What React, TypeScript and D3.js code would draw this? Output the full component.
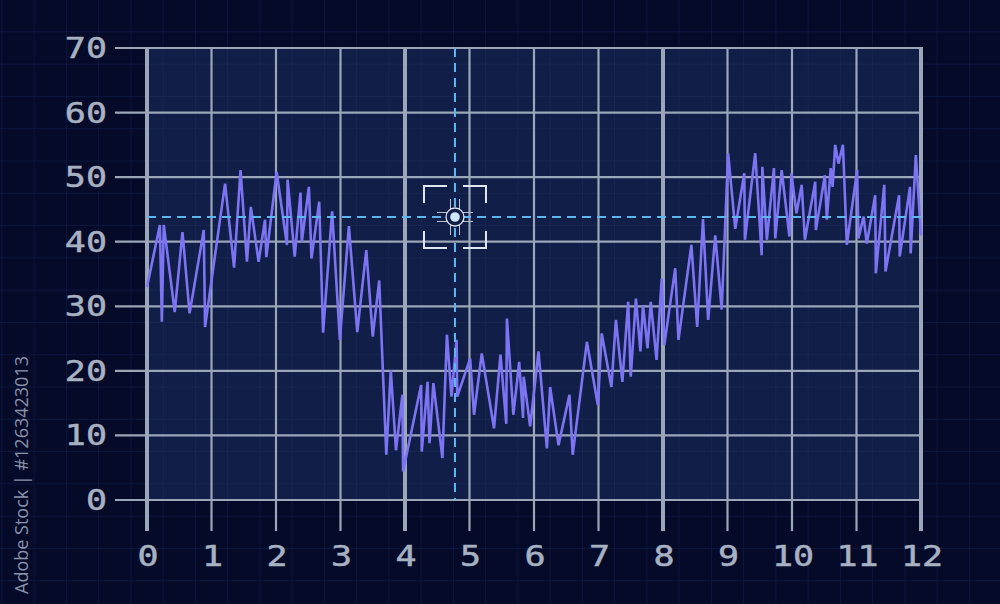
import React from "react";
import * as d3 from "d3";

const xTicks = [0, 1, 2, 3, 4, 5, 6, 7, 8, 9, 10, 11, 12];
const yTicks = [0, 10, 20, 30, 40, 50, 60, 70];
const thickX = [0, 4, 8, 12];

const seriesX = [
  0, 0.2, 0.23, 0.26, 0.43, 0.55, 0.66, 0.88, 0.9, 1.21, 1.35, 1.45, 1.55, 1.61, 1.73, 1.83, 1.85,
  2.01, 2.17, 2.18, 2.29, 2.38, 2.4, 2.51, 2.55, 2.67, 2.73, 2.87, 2.99, 3.13, 3.26, 3.4, 3.5, 3.6,
  3.71, 3.78, 3.86, 3.96, 3.97, 4.25, 4.26, 4.35, 4.38, 4.44, 4.58, 4.65, 4.72, 4.8, 4.81, 5.01,
  5.07, 5.19, 5.38, 5.48, 5.57, 5.58, 5.68, 5.77, 5.83, 5.84, 5.94, 6.07, 6.2, 6.25, 6.38, 6.55,
  6.6, 6.82, 6.99, 7.05, 7.2, 7.27, 7.37, 7.46, 7.5, 7.58, 7.65, 7.69, 7.76, 7.81, 7.9, 7.98, 8.02,
  8.19, 8.24, 8.44, 8.53, 8.62, 8.7, 8.81, 8.91, 9.01, 9.12, 9.26, 9.27, 9.43, 9.53, 9.54, 9.61,
  9.72, 9.74, 9.84, 9.96, 9.99, 10.07, 10.15, 10.2, 10.36, 10.37, 10.51, 10.54, 10.6, 10.63, 10.67,
  10.72, 10.79, 10.85, 11.01, 11.03, 11.11, 11.16, 11.29, 11.3, 11.43, 11.45, 11.66, 11.67, 11.83,
  11.84, 11.92, 12,
];
const seriesY = [
  33.0, 42.6, 27.6, 42.6, 29.1, 41.5, 28.9, 41.8, 26.8, 49.0, 36.0, 51.1, 36.9, 45.4, 36.9, 43.4, 37.6,
  50.8, 39.5, 49.6, 37.7, 47.6, 40.0, 48.5, 37.4, 46.2, 25.9, 44.7, 24.8, 42.4, 26.0, 38.7, 25.3, 34.0,
  7.0, 20.1, 7.7, 16.3, 4.4, 17.8, 7.5, 18.3, 8.8, 18.1, 6.5, 25.6, 16.0, 24.8, 16.0, 21.9,
  13.2, 22.7, 11.1, 22.5, 11.8, 28.1, 13.2, 21.4, 12.7, 19.1, 11.4, 23.0, 8.0, 17.5, 8.5, 16.3,
  7.0, 24.5, 14.7, 25.8, 17.5, 27.9, 18.3, 30.7, 19.1, 31.2, 23.0, 30.2, 23.5, 30.7, 21.7, 34.3, 24.0,
  35.9, 24.8, 39.5, 26.8, 43.5, 27.9, 41.0, 29.5, 53.7, 42.0, 50.6, 40.3, 53.7, 37.9, 51.6, 40.3,
  51.4, 40.5, 51.1, 40.8, 50.6, 44.4, 48.8, 40.3, 49.3, 41.8, 50.3, 43.4, 51.4, 48.5, 55.0,
  52.1, 55.0, 39.5, 51.1, 40.5, 43.9, 39.7, 47.2, 35.1, 48.8, 35.4, 47.2, 37.7, 48.5,
  38.2, 53.4, 41.0,
];

const cursorX = 4.775;
const cursorY = 43.83;

function TechLabel(props: { x: number; y: number; text: string; anchor: "end" | "middle"; fill: string }) {
  const { x, y, text, anchor, fill } = props;
  return (
    <text
      transform={`translate(${x},${y}) scale(1.25,1)`}
      fill={fill}
      fontFamily="'DejaVu Sans Mono', monospace"
      fontSize={28}
      textAnchor={anchor}
      stroke={fill}
      strokeWidth={0.5}
    >
      {text}
    </text>
  );
}

export default function App() {
  const W = 1000;
  const H = 604;
  const x = d3.scaleLinear().domain([0, 12]).range([147, 921]);
  const y = d3.scaleLinear().domain([0, 70]).range([500, 48]);

  const pts: [number, number][] = seriesX.map((v, i) => [v, seriesY[i]]);
  const line = d3
    .line<[number, number]>()
    .x((d) => x(d[0]))
    .y((d) => y(d[1]));

  const unitX = x(1) - x(0);
  const unitY = y(0) - y(10);
  const bgV: number[] = [];
  for (let k = -6; k < 40; k++) {
    const px = x(0) + unitX / 4 + (k * unitX) / 2;
    if (px > 0 && px < W) bgV.push(px);
  }
  const bgH: number[] = [];
  for (let k = -6; k < 30; k++) {
    const py = y(0) + unitY / 4 - (k * unitY) / 2;
    if (py > 0 && py < H) bgH.push(py);
  }

  const cx = x(cursorX);
  const cy = y(cursorY);
  const gridColor = "#9ba6b8";
  const labelColor = "#a7b1c2";
  const bx = 31;
  const by = 31;
  const armH = 23;
  const armV = 17;

  return (
    <svg
      width={W}
      height={H}
      style={{ position: "absolute", left: 0, top: 0, display: "block" }}
    >
      <rect x={0} y={0} width={W} height={H} fill="#040a27" />
      <g stroke="#0e1940" strokeWidth={1}>
        {bgV.map((v, i) => (
          <line key={"bv" + i} x1={v} x2={v} y1={0} y2={H} />
        ))}
        {bgH.map((v, i) => (
          <line key={"bh" + i} x1={0} x2={W} y1={v} y2={v} />
        ))}
      </g>
      <rect
        x={x(0)}
        y={y(70)}
        width={x(12) - x(0)}
        height={y(0) - y(70)}
        fill="#111e47"
      />
      <g stroke="#192753" strokeWidth={1}>
        {bgV
          .filter((v) => v > x(0) && v < x(12))
          .map((v, i) => (
            <line key={"iv" + i} x1={v} x2={v} y1={y(70)} y2={y(0)} />
          ))}
        {bgH
          .filter((v) => v > y(70) && v < y(0))
          .map((v, i) => (
            <line key={"ih" + i} x1={x(0)} x2={x(12)} y1={v} y2={v} />
          ))}
      </g>

      <g stroke={gridColor}>
        {yTicks.map((t) => (
          <line key={"gy" + t} x1={115} x2={x(12)} y1={y(t)} y2={y(t)} strokeWidth={2.2} />
        ))}
        {xTicks.map((t) => (
          <line
            key={"gx" + t}
            x1={x(t)}
            x2={x(t)}
            y1={y(70) - 1}
            y2={531}
            strokeWidth={thickX.includes(t) ? 4 : 2.2}
          />
        ))}
      </g>

      <path
        d={line(pts) || ""}
        fill="none"
        stroke="#7d74f4"
        strokeWidth={2.6}
        strokeLinejoin="miter"
        strokeMiterlimit={4}
      />

      <g stroke="#5fb6ee" strokeWidth={2} strokeDasharray="9 6">
        <line x1={cx} x2={cx} y1={y(70)} y2={y(0)} />
        <line x1={x(0)} x2={x(12)} y1={cy} y2={cy} />
      </g>

      <g stroke="#dfe6f0" strokeWidth={2} fill="none">
        <path d={`M${cx - bx + armH},${cy - by} H${cx - bx} V${cy - by + armV}`} />
        <path d={`M${cx + bx - armH},${cy - by} H${cx + bx} V${cy - by + armV}`} />
        <path d={`M${cx - bx + armH},${cy + by} H${cx - bx} V${cy + by - armV}`} />
        <path d={`M${cx + bx - armH},${cy + by} H${cx + bx} V${cy + by - armV}`} />
      </g>
      <g stroke="#b9c3d2" strokeWidth={1}>
        <line x1={cx - 18} x2={cx + 18} y1={cy - 4.5} y2={cy - 4.5} />
        <line x1={cx - 18} x2={cx + 18} y1={cy + 4.5} y2={cy + 4.5} />
        <line x1={cx - 4.5} x2={cx - 4.5} y1={cy - 18} y2={cy + 18} />
        <line x1={cx + 4.5} x2={cx + 4.5} y1={cy - 18} y2={cy + 18} />
      </g>
      <circle cx={cx} cy={cy} r={9} fill="#111e47" stroke="#dfe6f0" strokeWidth={1.3} />
      <circle cx={cx} cy={cy} r={4.8} fill="#cfe6f8" />

      {yTicks.map((t) => (
        <TechLabel key={"ly" + t} x={107} y={y(t) + 10} text={String(t)} anchor="end" fill={labelColor} />
      ))}
      {xTicks.map((t) => (
        <TechLabel key={"lx" + t} x={x(t) + 1} y={566} text={String(t)} anchor="middle" fill={labelColor} />
      ))}

      <text
        transform="translate(28,475) rotate(-90)"
        textAnchor="middle"
        fill="#8a93ad"
        fontFamily="'Open Sans', sans-serif"
        fontSize={18}
      >
        Adobe Stock | #1263423013
      </text>
    </svg>
  );
}
